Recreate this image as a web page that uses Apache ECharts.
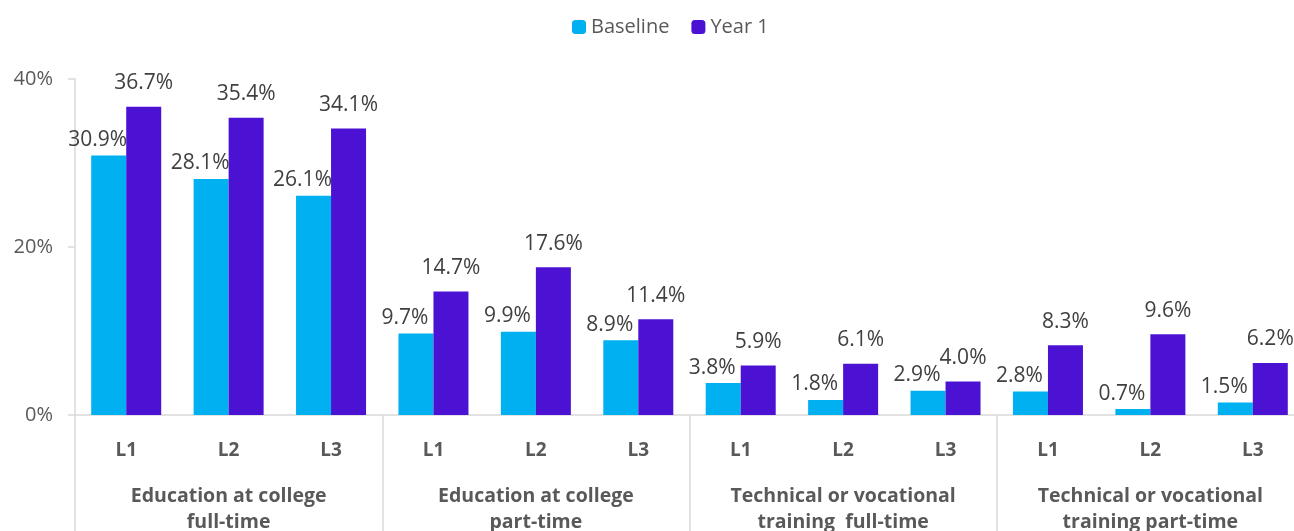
<!DOCTYPE html>
<html>
<head>
<meta charset="utf-8">
<style>
  html, body { margin: 0; padding: 0; background: #fff; }
  #chart { width: 1294px; height: 531px; }
</style>
<script src="https://cdn.jsdelivr.net/npm/echarts@6/dist/echarts.min.js"></script>
</head>
<body>
<div id="chart"></div>
<script>
// data
const levels = ['L1', 'L2', 'L3', 'L1', 'L2', 'L3', 'L1', 'L2', 'L3', 'L1', 'L2', 'L3']
const groups = [
  'Education at college\nfull-time',
  'Education at college\npart-time',
  'Technical or vocational\ntraining  full-time',
  'Technical or vocational\ntraining part-time'
]
const baseline = [30.9, 28.1, 26.1, 9.7, 9.9, 8.9, 3.8, 1.8, 2.9, 2.8, 0.7, 1.5]
const year1 = [36.7, 35.4, 34.1, 14.7, 17.6, 11.4, 5.9, 6.1, 4.0, 8.3, 9.6, 6.2]
const yTicks = [0, 20, 40]

const font = '"Open Sans", sans-serif'
const grey = '#595959'
const lineGrey = '#d9d9d9'

const chart = echarts.init(document.getElementById('chart'))

const pct = p => p.value.toFixed(1) + '%'

chart.setOption({
  animation: false,
  textStyle: { fontFamily: font },
  legend: {
    top: 12,
    left: 567,
    itemWidth: 14,
    itemHeight: 14,
    itemGap: 22,
    textStyle: { fontSize: 20, color: grey, fontFamily: font },
    data: ['Baseline', 'Year 1']
  },
  grid: {
    top: 79,
    bottom: 116,
    left: 75,
    right: -10,
    outerBoundsMode: 'none',
    containLabel: false
  },
  xAxis: [
    {
      type: 'category',
      data: levels,
      axisLine: { lineStyle: { color: lineGrey, width: 1.5 } },
      axisTick: { show: false },
      axisLabel: {
        interval: 0,
        margin: 26,
        fontSize: 19,
        fontWeight: 'bold',
        color: grey,
        fontFamily: font
      }
    },
    {
      type: 'category',
      data: groups,
      position: 'bottom',
      axisLine: { show: false },
      axisTick: {
        show: true,
        length: 130,
        interval: 0,
        lineStyle: { color: lineGrey, width: 1.5 }
      },
      axisLabel: {
        interval: 0,
        margin: 68,
        fontSize: 19.5,
        lineHeight: 26,
        fontWeight: 'bold',
        color: grey,
        fontFamily: font
      }
    }
  ],
  yAxis: {
    type: 'value',
    min: 0,
    max: 40,
    interval: 20,
    splitLine: { show: false },
    axisLine: { show: true, lineStyle: { color: lineGrey, width: 1.5 } },
    axisTick: { show: true, length: 7, lineStyle: { color: lineGrey, width: 1.5 } },
    axisLabel: {
      margin: 22,
      fontSize: 20,
      color: grey,
      fontFamily: font,
      formatter: v => (yTicks.indexOf(v) >= 0 ? v + '%' : '')
    }
  },
  series: [
    {
      name: 'Baseline',
      type: 'bar',
      xAxisIndex: 0,
      barWidth: 35,
      barGap: '0%',
      itemStyle: { color: '#00B0F0' },
      label: {
        show: true,
        position: 'top',
        distance: 5,
        offset: [-11, 0],
        fontSize: 21,
        color: '#404040',
        fontFamily: font,
        formatter: pct
      },
      data: baseline
    },
    {
      name: 'Year 1',
      type: 'bar',
      xAxisIndex: 0,
      barWidth: 35,
      barGap: '0%',
      itemStyle: { color: '#4C12D4' },
      label: {
        show: true,
        position: 'top',
        distance: 13,
        fontSize: 21,
        color: '#404040',
        fontFamily: font,
        formatter: pct
      },
      data: year1
    }
  ]
})
</script>
</body>
</html>
